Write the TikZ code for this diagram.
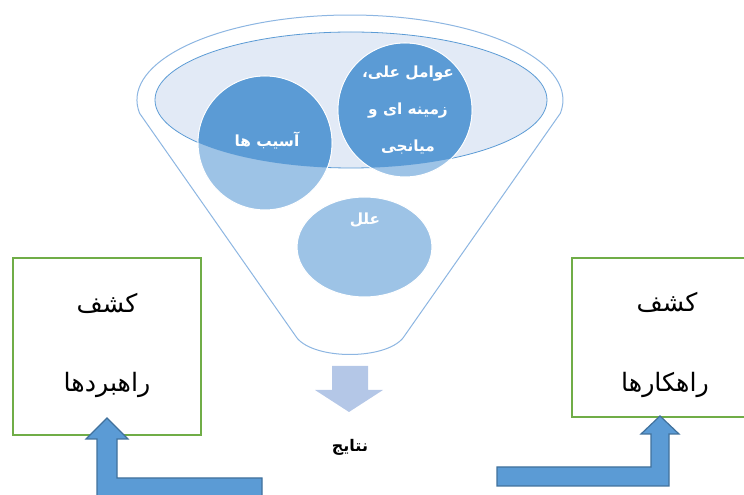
\documentclass[tikz,border=0pt]{standalone}
\usepackage{fontspec}
\newfontfamily\fa[Script=Arabic]{DejaVu Sans}
\TeXXeTstate=1
\usetikzlibrary{shapes.geometric}
\definecolor{dblue}{HTML}{5B9BD5}
\definecolor{lblue}{HTML}{9DC3E6}
\definecolor{ellfill}{HTML}{E2EAF6}
\definecolor{funline}{HTML}{8DB6E2}
\definecolor{arrowline}{HTML}{41719C}
\definecolor{arrowpale}{HTML}{B4C7E7}
\definecolor{boxgreen}{HTML}{70AD47}
\begin{document}
\begin{tikzpicture}[x=0.75pt,y=-0.75pt,
  disc/.style={circle,fill=lblue,draw=white,line width=0.8pt,minimum size=100.5pt,inner sep=0pt},
  intext/.style={text=white,font=\fa\bfseries\fontsize{11.5}{28}\selectfont,align=center},
  boxtext/.style={font=\fa\fontsize{19}{22}\selectfont},
  greenbox/.style={draw=boxgreen,line width=1.2pt,fill=white,inner sep=0pt},
  bent/.style={fill=dblue,draw=arrowline,line width=0.9pt}]
\useasboundingbox (0,0) rectangle (744,495);
\clip (0,0) rectangle (744,495);
% funnel outline
\draw[funline,line width=0.75pt,fill=white] (139.6,113.3) arc[start angle=171,end angle=369,x radius=213,y radius=85] -- (403,338) .. controls (385,360) and (315,360) .. (297,338) -- cycle;
% funnel mouth
\node[ellipse,fill=ellfill,draw=dblue,line width=0.6pt,minimum width=294pt,minimum height=102pt,inner sep=0pt] (mouth) at (351,100) {};
% discs
\node[disc] (c1) at (265,143) {};
\node[disc] (c2) at (405,110) {};
\node[ellipse,fill=lblue,draw=white,line width=0.8pt,minimum width=101.25pt,minimum height=75pt,inner sep=0pt] (c3) at (364.5,247) {};
\begin{scope}
\clip (351,100) ellipse [x radius=196, y radius=68];
\fill[dblue] (c1) circle [radius=66.4];
\fill[dblue] (c2) circle [radius=66.4];
\end{scope}
\node[intext] (t1) at (267,140) {\beginR آسیب ها\endR};
\node[intext] (t2) at (408,110) {\beginR عوامل علی،\endR\\ \beginR زمینه ای و\endR\\ \beginR میانجی\endR};
\node[intext] (t3) at (365,220) {\beginR علل\endR};
% down arrow
\fill[arrowpale] (332,366) -- (368,366) -- (368,390) -- (383,390) -- (349,412) -- (315,390) -- (332,390) -- cycle;
\node[font=\fa\bfseries\fontsize{12}{14}\selectfont] (res) at (350,447) {\beginR نتایج\endR};
% boxes
\node[greenbox,minimum width=141pt,minimum height=132.75pt] (b1) at (107,346.5) {};
\node[greenbox,minimum width=141pt,minimum height=119.25pt] (b2) at (666,337.5) {};
\node[boxtext] (b1a) at (107,303) {\beginR کشف\endR};
\node[boxtext] (b1b) at (107,385) {\beginR راهبردها\endR};
\node[boxtext] (b2a) at (667,302) {\beginR کشف\endR};
\node[boxtext] (b2b) at (665,385) {\beginR راهکارها\endR};
% bent arrows
\draw[bent] (107,418) -- (128,439) -- (117,439) -- (117,478) -- (262,478) -- (262,500) -- (97,500) -- (97,439) -- (86,439) -- cycle;
\draw[bent] (660,416) -- (679,434) -- (669,434) -- (669,486) -- (497,486) -- (497,467) -- (651,467) -- (651,434) -- (641,434) -- cycle;
\end{tikzpicture}
\end{document}
